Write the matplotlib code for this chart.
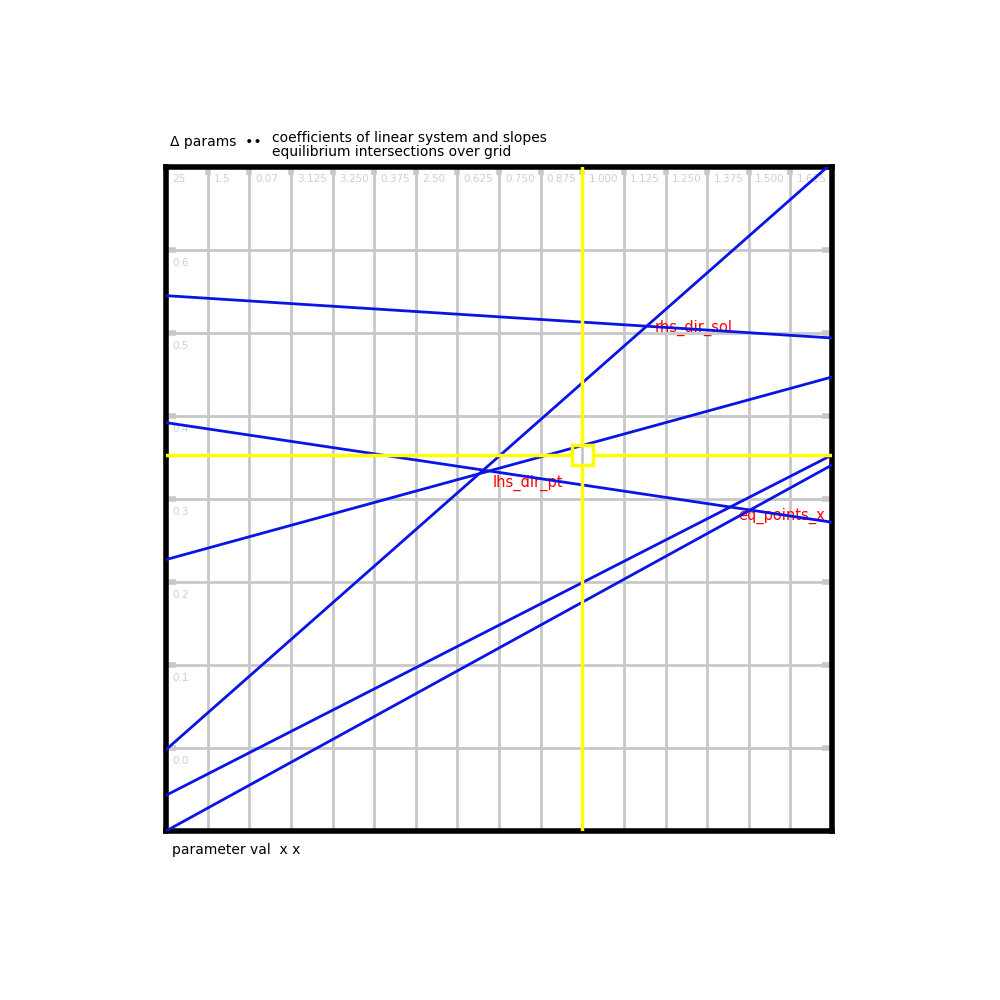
import matplotlib
matplotlib.use("Agg")
import matplotlib.pyplot as plt
from matplotlib.patches import Rectangle

# grid / tick values
x_ticks = list(range(0, 17))
y_ticks = list(range(0, 9))
x_tick_labels = ["25", "1.5", "0.07", "3.125", "3.250", "0.375", "2.50", "0.625",
                 "0.750", "0.875", "1.000", "1.125", "1.250", "1.375", "1.500", "1.625"]
y_tick_labels = ["0.6", "0.5", "0.4", "0.3", "0.2", "0.1", "0.0"]

# blue lines: value at left edge (x=0) and right edge (x=16)
line_start = [0.98, 6.45, 3.27, 4.92, 0.43, 0.0]
line_end = [8.05, 5.94, 5.47, 3.72, 4.53, 4.41]
x_span = [0, 16]

# yellow crosshair
cross_x = 10.0
cross_y = 4.53

# red annotations
note_text = ["rhs_dir_sol", "lhs_dir_pt", "eq_points_x"]
note_x = [11.75, 7.85, 13.75]
note_y = [6.06, 4.2, 3.8]

grid_col = "#c8c8c8"
yel = "#ffff00"

fig = plt.figure(figsize=(10, 10), dpi=100)
ax = fig.add_axes([0.166, 0.169, 0.666, 0.664])
ax.set_xlim(0, 16)
ax.set_ylim(0, 8)

for x in x_ticks[1:-1]:
    ax.axvline(x, color=grid_col, lw=2, zorder=1)
for y in y_ticks[1:-1]:
    ax.axhline(y, color=grid_col, lw=2, zorder=1)

# tick stubs
for x in x_ticks[1:-1]:
    ax.plot([x, x], [8, 7.9], color=grid_col, lw=4, solid_capstyle="butt", zorder=2)
for y in y_ticks[1:-1]:
    ax.plot([0, 0.25], [y, y], color=grid_col, lw=4, solid_capstyle="butt", zorder=2)
    ax.plot([15.75, 16], [y, y], color=grid_col, lw=4, solid_capstyle="butt", zorder=2)

for i, lab in enumerate(x_tick_labels):
    ax.text(x_ticks[i] + 0.15, 7.92, lab, color="#cfcfcf", fontsize=7.5,
            ha="left", va="top", zorder=2)
for i, lab in enumerate(y_tick_labels):
    ax.text(0.15, y_ticks[7 - i] - 0.1, lab, color="#cfcfcf", fontsize=7.5,
            ha="left", va="top", zorder=2)

for a, b in zip(line_start, line_end):
    ax.plot(x_span, [a, b], color="#0a14e6", lw=2, zorder=4)

# crosshair stops at the box edges
hw, hh = 0.25, 0.125
ax.plot([cross_x, cross_x], [0, cross_y - hh], color=yel, lw=2.5, zorder=5)
ax.plot([cross_x, cross_x], [cross_y + hh, 8], color=yel, lw=2.5, zorder=5)
ax.plot([0, cross_x - hw], [cross_y, cross_y], color=yel, lw=2.5, zorder=5)
ax.plot([cross_x + hw, 16], [cross_y, cross_y], color=yel, lw=2.5, zorder=5)
ax.add_patch(Rectangle((cross_x - hw, cross_y - hh), 2 * hw, 2 * hh,
                       facecolor="none", edgecolor=yel, lw=2.5, zorder=6))

for t, x, y in zip(note_text, note_x, note_y):
    ax.text(x, y, t, color="red", fontsize=10.5, ha="left", va="center", zorder=3)

ax.set_xticks([])
ax.set_yticks([])
for s in ax.spines.values():
    s.set_linewidth(4)
    s.set_color("black")

fig.text(0.170, 0.858, "\u0394 params  \u2022\u2022", fontsize=10, ha="left", va="center")
fig.text(0.272, 0.862, "coefficients of linear system and slopes",
         fontsize=10, ha="left", va="center")
fig.text(0.272, 0.848, "equilibrium intersections over grid",
         fontsize=10, ha="left", va="center")
fig.text(0.172, 0.150, "parameter val  x x", fontsize=10, ha="left", va="center")

fig.savefig("out.png", dpi=100, facecolor="white")
